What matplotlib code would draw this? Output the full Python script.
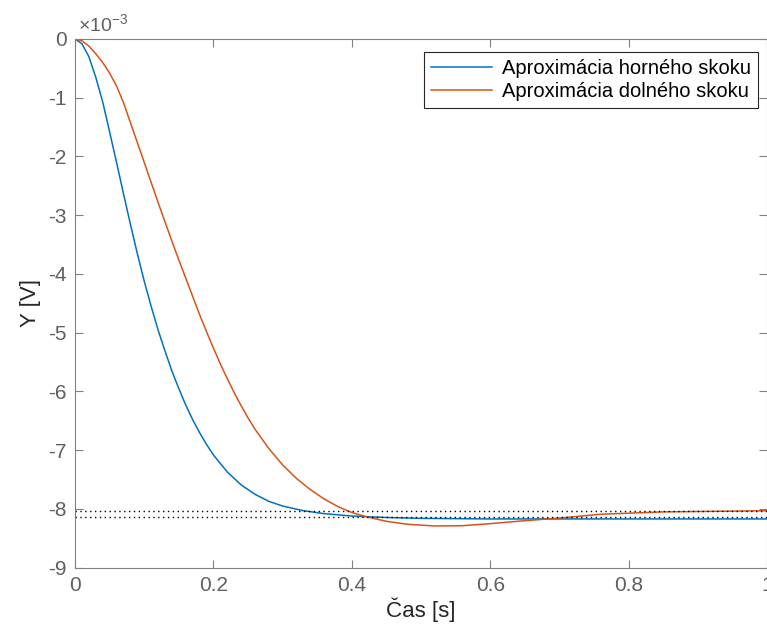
import numpy as np
import matplotlib.pyplot as plt

plt.rcParams['font.family'] = ['Liberation Sans', 'DejaVu Sans']
plt.rcParams['axes.unicode_minus'] = False
plt.rcParams['mathtext.fontset'] = 'custom'
plt.rcParams['mathtext.rm'] = 'Liberation Sans'
plt.rcParams['mathtext.it'] = 'Liberation Sans'

# Aproximacia horneho skoku (hodnoty v 1e-3 V)
t_horny = [0, 0.01, 0.02, 0.03, 0.04, 0.05, 0.06, 0.07, 0.08, 0.09, 0.10, 0.11,
           0.12, 0.13, 0.14, 0.15, 0.16, 0.17, 0.18, 0.19, 0.20, 0.22, 0.24, 0.26,
           0.28, 0.30, 0.33, 0.36, 0.40, 0.45, 0.50, 0.55, 0.60, 0.70, 0.80, 0.90, 1.0]
y_horny = [0, -0.08, -0.30, -0.65, -1.07, -1.58, -2.1, -2.63, -3.15, -3.65, -4.12, -4.55,
           -4.95, -5.31, -5.65, -5.95, -6.23, -6.48, -6.7, -6.9, -7.08, -7.37, -7.59, -7.75,
           -7.87, -7.95, -8.03, -8.08, -8.12, -8.145, -8.16, -8.165, -8.17, -8.17, -8.17,
           -8.17, -8.17]

# Aproximacia dolneho skoku (hodnoty v 1e-3 V)
t_dolny = [0, 0.01, 0.02, 0.03, 0.04, 0.05, 0.06, 0.07, 0.08, 0.09, 0.10, 0.11, 0.12,
           0.13, 0.14, 0.15, 0.16, 0.17, 0.18, 0.19, 0.20, 0.21, 0.22, 0.23, 0.24, 0.25,
           0.26, 0.28, 0.30, 0.32, 0.34, 0.36, 0.38, 0.40, 0.42, 0.45, 0.48, 0.52, 0.56,
           0.60, 0.65, 0.70, 0.76, 0.85, 1.0]
y_dolny = [0, -0.03, -0.12, -0.25, -0.4, -0.58, -0.8, -1.08, -1.42, -1.76, -2.1, -2.44,
           -2.78, -3.11, -3.44, -3.76, -4.07, -4.38, -4.69, -4.98, -5.26, -5.53, -5.78, -6.02,
           -6.24, -6.45, -6.64, -6.97, -7.25, -7.48, -7.67, -7.83, -7.96, -8.06, -8.13,
           -8.21, -8.26, -8.29, -8.285, -8.25, -8.2, -8.155, -8.09, -8.05, -8.03]

# ustalene hodnoty (bodkovane ciary)
ustalene = [-8.035, -8.14]

fig = plt.figure(figsize=(7.67, 6.37), dpi=100)
ax = fig.add_axes([75 / 767, 69.3 / 637, 692 / 767, 528.7 / 637])

ax.plot(t_horny, y_horny, color='#0072BD', lw=1.1, label='Aproximácia horného skoku')
ax.plot(t_dolny, y_dolny, color='#D95319', lw=1.1, label='Aproximácia dolného skoku')
for u in ustalene:
    ax.axhline(u, color='black', ls=(0, (1, 2.5)), lw=1.0)

ax.set_xlim(0, 1)
ax.set_ylim(-9, 0)
ax.set_xticks([0, 0.2, 0.4, 0.6, 0.8, 1.0])
ax.set_xticklabels(['0', '0.2', '0.4', '0.6', '0.8', '1'])
ax.set_yticks(range(-9, 1))
ax.set_yticklabels([str(v) for v in range(-9, 1)])

grey = '#808080'
for s in ax.spines.values():
    s.set_color(grey)
ax.tick_params(direction='in', top=True, right=True, length=6, color=grey,
               labelcolor='#606060', labelsize=15, pad=6)

# nasobitel osi y
ax.text(0.004, 1.008, r'$\times10^{-3}$', transform=ax.transAxes, fontsize=14,
        color='#606060', ha='left', va='bottom')

ax.set_xlabel('Čas [s]', fontsize=16, color='#262626', labelpad=2)
ax.set_ylabel('Y [V]', fontsize=16, color='#262626', labelpad=5)

leg = ax.legend(loc='upper right', fontsize=14.5, handlelength=3.0, handletextpad=0.5,
                fancybox=False, framealpha=1, edgecolor='#262626', borderaxespad=0,
                bbox_to_anchor=(0.987, 0.975), borderpad=0.35, labelspacing=0.2)
leg.get_frame().set_linewidth(0.8)

fig.savefig('out.png', dpi=100)
